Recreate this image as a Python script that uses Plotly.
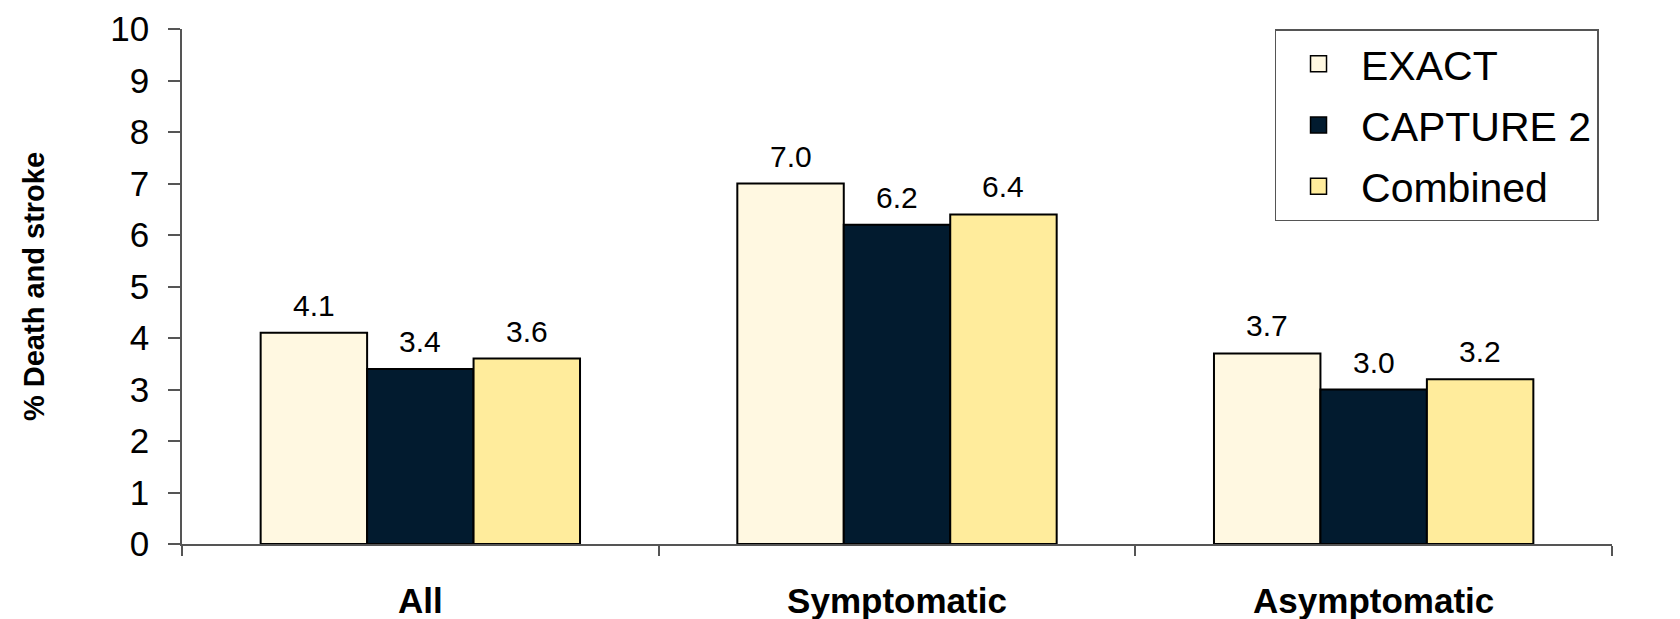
import plotly.graph_objects as go

categories = ["All", "Symptomatic", "Asymptomatic"]
series_names = ["EXACT", "CAPTURE 2", "Combined"]
exact_vals = [4.1, 7.0, 3.7]
capture2_vals = [3.4, 6.2, 3.0]
combined_vals = [3.6, 6.4, 3.2]
series_colors = ["#FFF8E1", "#021B2F", "#FFEC9C"]
y_ticks = list(range(0, 11))

FONT = "Liberation Sans, Arial, sans-serif"

# layout geometry (figure is placed 8px in by the page's body margin)
W, H = 1672, 611
ML, MR, MT, MB = 174, 68, 21, 75
BARGAP = 0.33
plot_w = W - ML - MR
bar_px = plot_w / len(categories) * (1 - BARGAP) / len(series_names)

fig = go.Figure()
all_vals = [exact_vals, capture2_vals, combined_vals]
for i, (name, vals, col) in enumerate(zip(series_names, all_vals, series_colors)):
    fig.add_trace(go.Bar(
        x=categories, y=vals, name=name, legendgroup=f"g{i}", showlegend=False,
        marker=dict(color=col, line=dict(color="#000000", width=2)),
        cliponaxis=False,
    ))
    # legend entry with a larger square swatch
    fig.add_trace(go.Scatter(
        x=[None], y=[None], mode="markers", name=name, legendgroup=f"g{i}",
        marker=dict(symbol="square", size=16, color=col, line=dict(color="#000000", width=1.5)),
        showlegend=True,
    ))
    for c, v in zip(categories, vals):
        fig.add_annotation(
            x=c, y=v, text=f"{v:.1f}", showarrow=False,
            xref="x", yref="y", xanchor="center", yanchor="bottom",
            xshift=(i - 1) * bar_px, yshift=9,
            font=dict(size=30, color="#000000", family=FONT),
        )

fig.update_layout(
    width=W, height=H,
    margin=dict(l=ML, r=MR, t=MT, b=MB),
    paper_bgcolor="white", plot_bgcolor="white",
    barmode="group", bargap=BARGAP, bargroupgap=0,
    font=dict(family=FONT, color="#000000"),
    showlegend=True,
    legend=dict(
        x=0.764, y=1.0, xanchor="left", yanchor="top",
        font=dict(size=41, family=FONT, color="#000000"),
        bordercolor="#555555", borderwidth=1.5, bgcolor="white",
        tracegroupgap=5, itemwidth=75,
    ),
)
fig.update_xaxes(
    showline=True, linecolor="#555555", linewidth=1.5,
    ticks="outside", tickson="boundaries", ticklen=10, tickcolor="#555555", tickwidth=1.5,
    tickfont=dict(size=35, family=FONT, color="#000000", weight="bold"),
    ticklabelstandoff=25, showgrid=False, zeroline=False, automargin=False,
)
fig.update_yaxes(
    range=[0, 10], tickvals=y_ticks, showline=True, linecolor="#555555", linewidth=1.5,
    ticks="outside", ticklen=12, tickcolor="#555555", tickwidth=1.5,
    tickfont=dict(size=35, family=FONT, color="#000000"),
    ticklabelstandoff=12,
    showgrid=False, zeroline=False, automargin=False,
    title=dict(text="% Death and stroke", font=dict(size=29, family=FONT, color="#000000", weight="bold"), standoff=57),
)

fig.write_html("out.html")
